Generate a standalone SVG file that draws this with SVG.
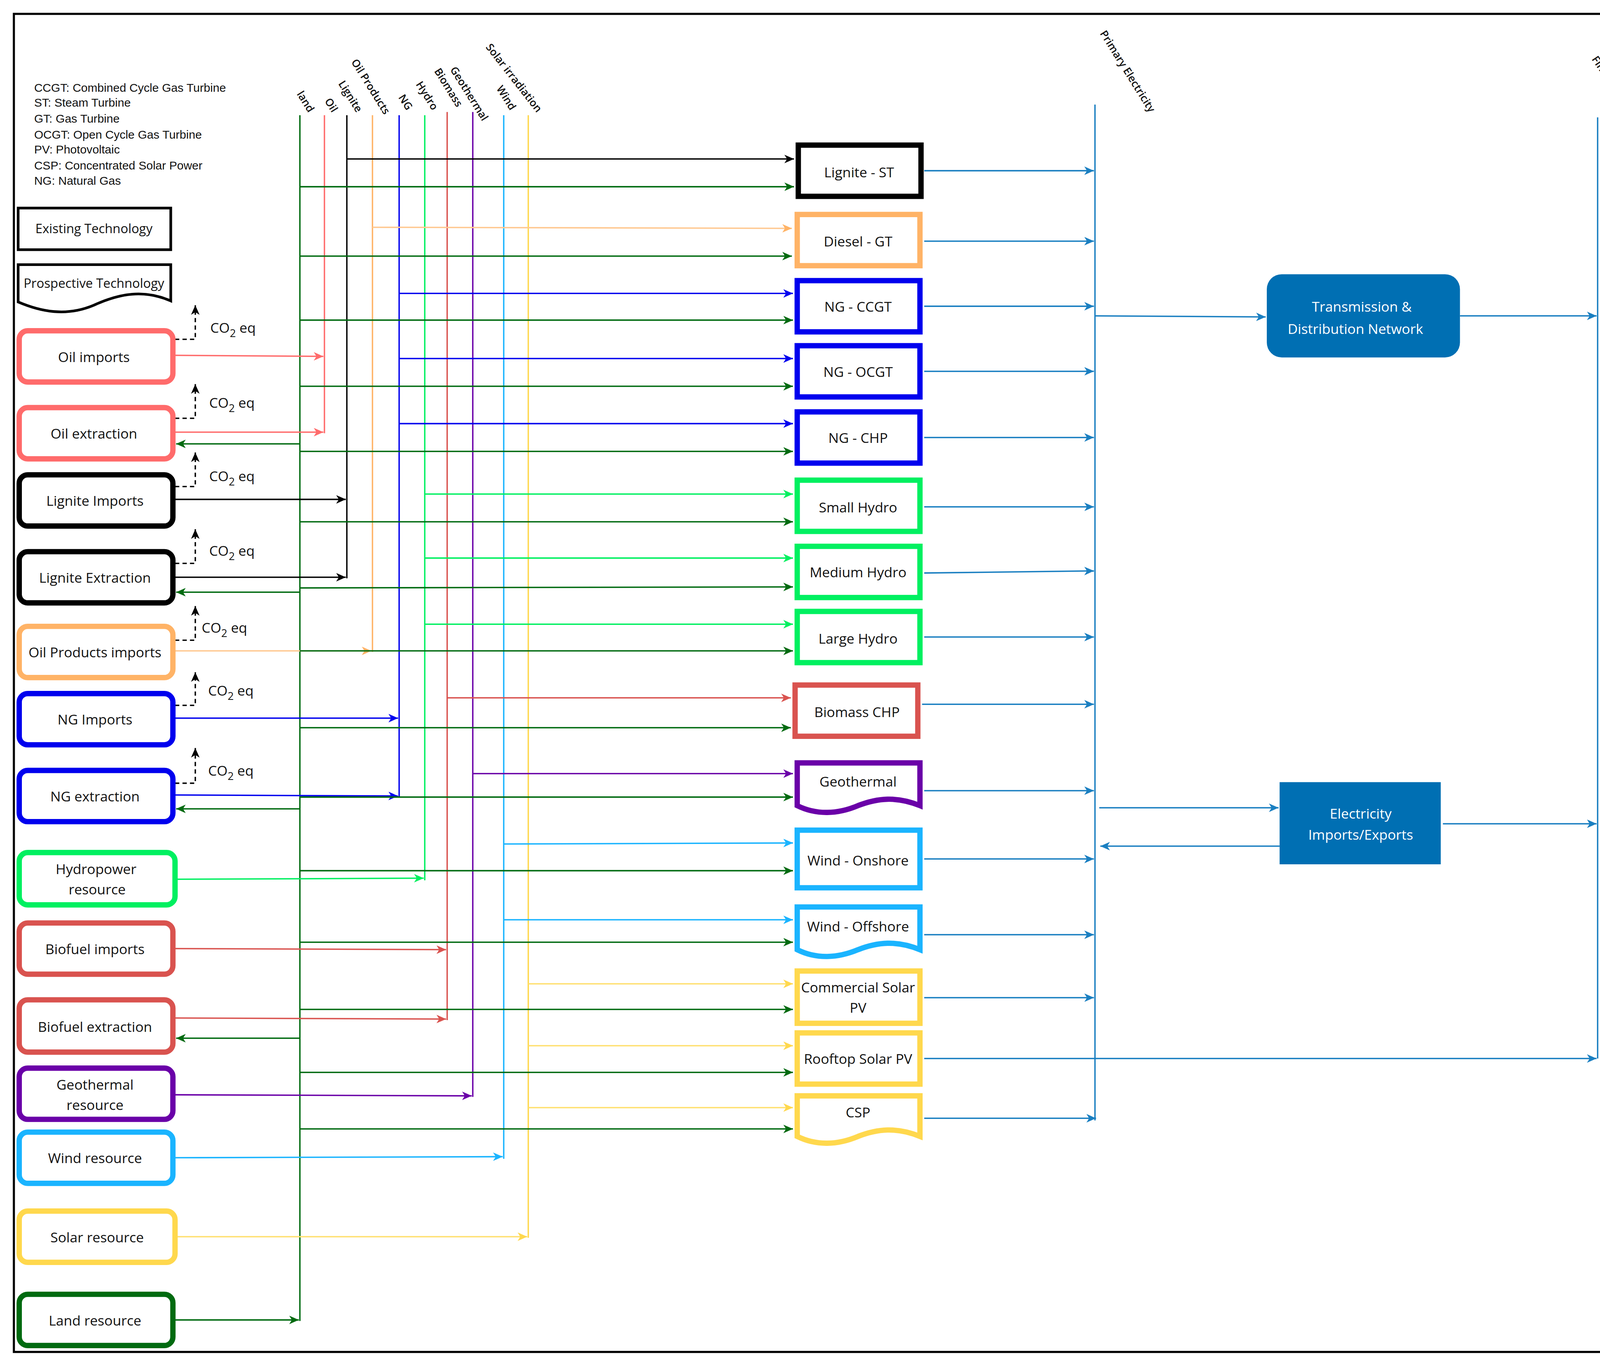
<svg xmlns="http://www.w3.org/2000/svg" width="4284" height="3495" viewBox="0 0 4284 3495">
<style>
.t{font-family:"Open Sans","Liberation Sans",sans-serif;font-size:13px;fill:#111;text-anchor:middle;dominant-baseline:central}
.tw{font-family:"Open Sans","Liberation Sans",sans-serif;font-size:13px;fill:#fff;text-anchor:middle}
.lg{font-family:"Liberation Sans",Arial,sans-serif;font-size:11px;fill:#111}
.bl{font-family:"Open Sans","Liberation Sans",sans-serif;font-size:10px;fill:#111;text-anchor:end;font-weight:600}
.co{font-family:"Open Sans","Liberation Sans",sans-serif;font-size:13px;fill:#111}
.c line,.c path{fill:none;stroke-width:1.3}
.n rect,.n path{fill:#fff;stroke-width:5}
</style>
<defs>
<marker id="k" markerUnits="userSpaceOnUse" markerWidth="10" markerHeight="10" refX="9" refY="4" orient="auto"><path d="M0,0 L9,4 L0,8 L2.5,4z" fill="#000"/></marker>
<marker id="g" markerUnits="userSpaceOnUse" markerWidth="10" markerHeight="10" refX="9" refY="4" orient="auto"><path d="M0,0 L9,4 L0,8 L2.5,4z" fill="#006a10"/></marker>
<marker id="o" markerUnits="userSpaceOnUse" markerWidth="10" markerHeight="10" refX="9" refY="4" orient="auto"><path d="M0,0 L9,4 L0,8 L2.5,4z" fill="#ffb366"/></marker>
<marker id="b" markerUnits="userSpaceOnUse" markerWidth="10" markerHeight="10" refX="9" refY="4" orient="auto"><path d="M0,0 L9,4 L0,8 L2.5,4z" fill="#0000ee"/></marker>
<marker id="h" markerUnits="userSpaceOnUse" markerWidth="10" markerHeight="10" refX="9" refY="4" orient="auto"><path d="M0,0 L9,4 L0,8 L2.5,4z" fill="#00f060"/></marker>
<marker id="r" markerUnits="userSpaceOnUse" markerWidth="10" markerHeight="10" refX="9" refY="4" orient="auto"><path d="M0,0 L9,4 L0,8 L2.5,4z" fill="#d9534f"/></marker>
<marker id="p" markerUnits="userSpaceOnUse" markerWidth="10" markerHeight="10" refX="9" refY="4" orient="auto"><path d="M0,0 L9,4 L0,8 L2.5,4z" fill="#ff6b6b"/></marker>
<marker id="v" markerUnits="userSpaceOnUse" markerWidth="10" markerHeight="10" refX="9" refY="4" orient="auto"><path d="M0,0 L9,4 L0,8 L2.5,4z" fill="#6a00a8"/></marker>
<marker id="w" markerUnits="userSpaceOnUse" markerWidth="10" markerHeight="10" refX="9" refY="4" orient="auto"><path d="M0,0 L9,4 L0,8 L2.5,4z" fill="#1ab4ff"/></marker>
<marker id="y" markerUnits="userSpaceOnUse" markerWidth="10" markerHeight="10" refX="9" refY="4" orient="auto"><path d="M0,0 L9,4 L0,8 L2.5,4z" fill="#ffd84d"/></marker>
<marker id="e" markerUnits="userSpaceOnUse" markerWidth="10" markerHeight="10" refX="9" refY="4" orient="auto"><path d="M0,0 L9,4 L0,8 L2.5,4z" fill="#1a7fc1"/></marker>
</defs>
<rect width="4284" height="3495" fill="#fff"/>
<g transform="scale(2.7321)">
<rect x="13" y="13" width="1543" height="1254" fill="none" stroke="#000" stroke-width="2"/>
<g id="legend">
<text class="lg" x="32" y="86">CCGT: Combined Cycle Gas Turbine</text>
<text class="lg" x="32" y="100">ST: Steam Turbine</text>
<text class="lg" x="32" y="115">GT: Gas Turbine</text>
<text class="lg" x="32" y="130">OCGT: Open Cycle Gas Turbine</text>
<text class="lg" x="32" y="144">PV: Photovoltaic</text>
<text class="lg" x="32" y="159">CSP: Concentrated Solar Power</text>
<text class="lg" x="32" y="173">NG: Natural Gas</text>
<rect x="17" y="195" width="143" height="39" fill="#fff" stroke="#000" stroke-width="2.5"/>
<text class="t" x="88" y="214" style="font-size:12px">Existing Technology</text>
<path d="M17,248 H160 V282 C135,271 112,275 88,286 C62,297 38,292 17,283 Z" fill="#fff" stroke="#000" stroke-width="2.5"/>
<text class="t" x="88" y="265" style="font-size:12px">Prospective Technology</text>
</g>
<g id="connectors" class="c">
<line x1="281" y1="108" x2="281" y2="1238" stroke="#006a10" stroke-width="2"/>
<line x1="304" y1="108" x2="304" y2="406" stroke="#ff6b6b" stroke-width="2"/>
<line x1="325" y1="108" x2="325" y2="542" stroke="#000" stroke-width="2"/>
<line x1="349" y1="108" x2="349" y2="611" stroke="#ffb366" stroke-width="2"/>
<line x1="374" y1="108" x2="374" y2="747" stroke="#0000ee" stroke-width="2"/>
<line x1="398" y1="108" x2="398" y2="825" stroke="#00f060" stroke-width="2"/>
<line x1="419" y1="105" x2="419" y2="956" stroke="#d9534f" stroke-width="2"/>
<line x1="443" y1="105" x2="443" y2="1028" stroke="#6a00a8" stroke-width="2"/>
<line x1="472" y1="108" x2="472" y2="1086" stroke="#1ab4ff" stroke-width="2"/>
<line x1="495" y1="108" x2="495" y2="1160" stroke="#ffd84d" stroke-width="2"/>
<line x1="1026" y1="98" x2="1026" y2="1050" stroke="#1a7fc1" stroke-width="2"/>
<line x1="1497" y1="110" x2="1497" y2="992" stroke="#1a7fc1" stroke-width="2"/>
<line x1="163" y1="333" x2="303" y2="334" stroke="#ff6b6b" marker-end="url(#p)"/>
<line x1="163" y1="405" x2="303" y2="405" stroke="#ff6b6b" marker-end="url(#p)"/>
<line x1="281" y1="416" x2="165" y2="416" stroke="#006a10" marker-end="url(#g)"/>
<line x1="163" y1="468" x2="324" y2="468" stroke="#000" marker-end="url(#k)"/>
<line x1="163" y1="541" x2="324" y2="541" stroke="#000" marker-end="url(#k)"/>
<line x1="281" y1="555" x2="165" y2="555" stroke="#006a10" marker-end="url(#g)"/>
<line x1="163" y1="610" x2="348" y2="610" stroke="#ffc890" marker-end="url(#o)"/>
<line x1="163" y1="673" x2="373" y2="673" stroke="#0000ee" marker-end="url(#b)"/>
<line x1="163" y1="745" x2="373" y2="746" stroke="#0000ee" marker-end="url(#b)"/>
<line x1="281" y1="758" x2="165" y2="758" stroke="#006a10" marker-end="url(#g)"/>
<line x1="166" y1="824" x2="397" y2="823" stroke="#00f060" marker-end="url(#h)"/>
<line x1="163" y1="889" x2="418" y2="890" stroke="#d9534f" marker-end="url(#r)"/>
<line x1="163" y1="954" x2="418" y2="955" stroke="#d9534f" marker-end="url(#r)"/>
<line x1="281" y1="973" x2="165" y2="973" stroke="#006a10" marker-end="url(#g)"/>
<line x1="163" y1="1026" x2="442" y2="1027" stroke="#6a00a8" marker-end="url(#v)"/>
<line x1="163" y1="1085" x2="471" y2="1084" stroke="#1ab4ff" marker-end="url(#w)"/>
<line x1="166" y1="1159" x2="494" y2="1159" stroke="#ffe070" marker-end="url(#y)"/>
<line x1="163" y1="1237" x2="280" y2="1237" stroke="#006a10" marker-end="url(#g)"/>
<line x1="325" y1="149" x2="744" y2="149" stroke="#000" marker-end="url(#k)"/>
<line x1="349" y1="213" x2="742" y2="214" stroke="#ffc890" marker-end="url(#o)"/>
<line x1="374" y1="275" x2="743" y2="275" stroke="#0000ee" marker-end="url(#b)"/>
<line x1="374" y1="336" x2="743" y2="336" stroke="#0000ee" marker-end="url(#b)"/>
<line x1="374" y1="397" x2="743" y2="397" stroke="#0000ee" marker-end="url(#b)"/>
<line x1="398" y1="463" x2="743" y2="463" stroke="#00f060" marker-end="url(#h)"/>
<line x1="398" y1="523" x2="743" y2="523" stroke="#00f060" marker-end="url(#h)"/>
<line x1="398" y1="585" x2="743" y2="585" stroke="#00f060" marker-end="url(#h)"/>
<line x1="419" y1="654" x2="741" y2="654" stroke="#d9534f" marker-end="url(#r)"/>
<line x1="443" y1="725" x2="743" y2="725" stroke="#6a00a8" marker-end="url(#v)"/>
<line x1="472" y1="791" x2="743" y2="790" stroke="#1ab4ff" marker-end="url(#w)"/>
<line x1="472" y1="862" x2="743" y2="862" stroke="#1ab4ff" marker-end="url(#w)"/>
<line x1="495" y1="922" x2="743" y2="922" stroke="#ffe070" marker-end="url(#y)"/>
<line x1="495" y1="980" x2="743" y2="980" stroke="#ffe070" marker-end="url(#y)"/>
<line x1="495" y1="1038" x2="743" y2="1038" stroke="#ffe070" marker-end="url(#y)"/>
<g stroke="#006a10">
<line x1="281" y1="175" x2="744" y2="175" marker-end="url(#g)"/>
<line x1="281" y1="240" x2="742" y2="240" marker-end="url(#g)"/>
<line x1="281" y1="300" x2="743" y2="300" marker-end="url(#g)"/>
<line x1="281" y1="362" x2="743" y2="362" marker-end="url(#g)"/>
<line x1="281" y1="423" x2="743" y2="423" marker-end="url(#g)"/>
<line x1="281" y1="489" x2="743" y2="489" marker-end="url(#g)"/>
<line x1="281" y1="551" x2="743" y2="550" marker-end="url(#g)"/>
<line x1="281" y1="610" x2="743" y2="610" marker-end="url(#g)"/>
<line x1="281" y1="682" x2="741" y2="682" marker-end="url(#g)"/>
<line x1="281" y1="747" x2="743" y2="747" marker-end="url(#g)"/>
<line x1="281" y1="816" x2="743" y2="816" marker-end="url(#g)"/>
<line x1="281" y1="883" x2="743" y2="883" marker-end="url(#g)"/>
<line x1="281" y1="946" x2="743" y2="946" marker-end="url(#g)"/>
<line x1="281" y1="1005" x2="743" y2="1005" marker-end="url(#g)"/>
<line x1="281" y1="1058" x2="743" y2="1058" marker-end="url(#g)"/>
</g>
<g stroke="#1a7fc1">
<line x1="866" y1="160" x2="1025" y2="160" marker-end="url(#e)"/>
<line x1="866" y1="226" x2="1025" y2="226" marker-end="url(#e)"/>
<line x1="866" y1="287" x2="1025" y2="287" marker-end="url(#e)"/>
<line x1="866" y1="348" x2="1025" y2="348" marker-end="url(#e)"/>
<line x1="866" y1="410" x2="1025" y2="410" marker-end="url(#e)"/>
<line x1="866" y1="475" x2="1025" y2="475" marker-end="url(#e)"/>
<line x1="866" y1="537" x2="1025" y2="535" marker-end="url(#e)"/>
<line x1="866" y1="597" x2="1025" y2="597" marker-end="url(#e)"/>
<line x1="864" y1="660" x2="1025" y2="660" marker-end="url(#e)"/>
<line x1="866" y1="741" x2="1025" y2="741" marker-end="url(#e)"/>
<line x1="866" y1="805" x2="1025" y2="805" marker-end="url(#e)"/>
<line x1="866" y1="876" x2="1025" y2="876" marker-end="url(#e)"/>
<line x1="866" y1="935" x2="1025" y2="935" marker-end="url(#e)"/>
<line x1="866" y1="992" x2="1496" y2="992" marker-end="url(#e)"/>
<line x1="866" y1="1048" x2="1027" y2="1048" marker-end="url(#e)"/>
<line x1="1026" y1="296" x2="1186" y2="297" marker-end="url(#e)"/>
<line x1="1368" y1="296" x2="1496" y2="296" marker-end="url(#e)"/>
<line x1="1030" y1="757" x2="1198" y2="757" marker-end="url(#e)"/>
<line x1="1199" y1="793" x2="1031" y2="793" marker-end="url(#e)"/>
<line x1="1352" y1="772" x2="1496" y2="772" marker-end="url(#e)"/>
</g>
<g stroke="#000" stroke-dasharray="4,3">
<path d="M164,318 H183 V286" marker-end="url(#k)"/>
<path d="M164,392 H183 V360" marker-end="url(#k)"/>
<path d="M164,456 H183 V424" marker-end="url(#k)"/>
<path d="M164,528 H183 V496" marker-end="url(#k)"/>
<path d="M164,600 H183 V568" marker-end="url(#k)"/>
<path d="M164,661 H183 V630" marker-end="url(#k)"/>
<path d="M164,734 H183 V701" marker-end="url(#k)"/>
</g>
</g>
<g id="co2labels">
<text class="co" x="197" y="312">CO<tspan font-size="10" dy="4">2</tspan><tspan dy="-4"> eq</tspan></text>
<text class="co" x="196" y="382">CO<tspan font-size="10" dy="4">2</tspan><tspan dy="-4"> eq</tspan></text>
<text class="co" x="196" y="451">CO<tspan font-size="10" dy="4">2</tspan><tspan dy="-4"> eq</tspan></text>
<text class="co" x="196" y="521">CO<tspan font-size="10" dy="4">2</tspan><tspan dy="-4"> eq</tspan></text>
<text class="co" x="189" y="593">CO<tspan font-size="10" dy="4">2</tspan><tspan dy="-4"> eq</tspan></text>
<text class="co" x="195" y="652">CO<tspan font-size="10" dy="4">2</tspan><tspan dy="-4"> eq</tspan></text>
<text class="co" x="195" y="727">CO<tspan font-size="10" dy="4">2</tspan><tspan dy="-4"> eq</tspan></text>
</g>
<g id="buslabels">
<text class="bl" transform="translate(289,106) rotate(58)">land</text>
<text class="bl" transform="translate(311,106) rotate(58)">Oil</text>
<text class="bl" transform="translate(334,106) rotate(58)">Lignite</text>
<text class="bl" transform="translate(360,108) rotate(58)">Oil Products</text>
<text class="bl" transform="translate(381,104) rotate(58)">NG</text>
<text class="bl" transform="translate(405,104) rotate(58)">Hydro</text>
<text class="bl" transform="translate(428,101) rotate(58)">Biomass</text>
<text class="bl" transform="translate(452,114) rotate(58)">Geothermal</text>
<text class="bl" transform="translate(478,104) rotate(58)">Wind</text>
<text class="bl" transform="translate(503,106) rotate(52)">Solar irradiation</text>
<text class="bl" transform="translate(1077,106) rotate(58)">Primary Electricity</text>
<text class="bl" transform="translate(1532,116) rotate(56)">Final electricity</text>
</g>
<g id="resources" class="n">
<g id="oilimp"><rect x="18" y="310" width="144" height="48" rx="8" stroke="#ff6b6b"/><text class="t" x="88" y="334">Oil imports</text></g>
<g id="oilext"><rect x="18" y="382" width="144" height="48" rx="8" stroke="#ff6b6b"/><text class="t" x="88" y="406">Oil extraction</text></g>
<g id="ligimp"><rect x="18" y="445" width="144" height="48" rx="8" stroke="#000"/><text class="t" x="89" y="469">Lignite Imports</text></g>
<g id="ligext"><rect x="18" y="517" width="144" height="48" rx="8" stroke="#000"/><text class="t" x="89" y="541">Lignite Extraction</text></g>
<g id="opimp"><rect x="18" y="587" width="144" height="48" rx="8" stroke="#ffb366"/><text class="t" x="89" y="611">Oil Products imports</text></g>
<g id="ngimp"><rect x="18" y="650" width="144" height="48" rx="8" stroke="#0000ee"/><text class="t" x="89" y="674">NG Imports</text></g>
<g id="ngext"><rect x="18" y="722" width="144" height="48" rx="8" stroke="#0000ee"/><text class="t" x="89" y="746">NG extraction</text></g>
<g id="hydro"><rect x="18" y="799" width="146" height="49" rx="8" stroke="#00f060"/><text class="t" x="90" y="814">Hydropower</text><text class="t" x="91" y="833">resource</text></g>
<g id="bioimp"><rect x="18" y="865" width="144" height="48" rx="8" stroke="#d9534f"/><text class="t" x="89" y="889">Biofuel imports</text></g>
<g id="bioext"><rect x="18" y="937" width="144" height="49" rx="8" stroke="#d9534f"/><text class="t" x="89" y="962">Biofuel extraction</text></g>
<g id="geores"><rect x="18" y="1001" width="144" height="48" rx="8" stroke="#6a00a8"/><text class="t" x="89" y="1016">Geothermal</text><text class="t" x="89" y="1035">resource</text></g>
<g id="windres"><rect x="18" y="1061" width="144" height="48" rx="8" stroke="#1ab4ff"/><text class="t" x="89" y="1085">Wind resource</text></g>
<g id="solres"><rect x="18" y="1135" width="146" height="48" rx="8" stroke="#ffd84d"/><text class="t" x="91" y="1159">Solar resource</text></g>
<g id="landres"><rect x="18" y="1213" width="144" height="48" rx="8" stroke="#006a10"/><text class="t" x="89" y="1237">Land resource</text></g>
</g>
<g id="techs" class="n">
<g id="ligst"><rect x="748" y="136" width="115" height="48" stroke="#000" stroke-width="6"/><text class="t" x="805" y="161">Lignite - ST</text></g>
<g id="dgt"><rect x="747" y="201" width="115" height="48" stroke="#ffb366"/><text class="t" x="804" y="226">Diesel - GT</text></g>
<g id="ccgt"><rect x="747" y="263" width="115" height="48" stroke="#0000ee"/><text class="t" x="804" y="287">NG - CCGT</text></g>
<g id="ocgt"><rect x="747" y="324" width="115" height="48" stroke="#0000ee"/><text class="t" x="804" y="348">NG - OCGT</text></g>
<g id="chp"><rect x="747" y="386" width="115" height="48" stroke="#0000ee"/><text class="t" x="804" y="410">NG - CHP</text></g>
<g id="shydro"><rect x="747" y="450" width="115" height="48" stroke="#00f060"/><text class="t" x="804" y="475">Small Hydro</text></g>
<g id="mhydro"><rect x="747" y="512" width="115" height="48" stroke="#00f060"/><text class="t" x="804" y="536">Medium Hydro</text></g>
<g id="lhydro"><rect x="747" y="573" width="115" height="48" stroke="#00f060"/><text class="t" x="804" y="598">Large Hydro</text></g>
<g id="biochp"><rect x="745" y="642" width="115" height="48" stroke="#d9534f"/><text class="t" x="803" y="667">Biomass CHP</text></g>
<g id="geo"><path d="M747,715 H862 V755 C840,746 822,748 804,755 C785,763 765,764 747,755 Z" stroke="#6a00a8"/><text class="t" x="804" y="732">Geothermal</text></g>
<g id="won"><rect x="747" y="778" width="115" height="54" stroke="#1ab4ff"/><text class="t" x="804" y="806">Wind - Onshore</text></g>
<g id="woff"><path d="M747,850 H862 V890 C840,881 822,883 804,890 C785,898 765,899 747,890 Z" stroke="#1ab4ff"/><text class="t" x="804" y="868">Wind - Offshore</text></g>
<g id="cpv"><rect x="747" y="910" width="115" height="49" stroke="#ffd84d"/><text class="t" x="804" y="925">Commercial Solar</text><text class="t" x="804" y="944">PV</text></g>
<g id="rpv"><rect x="747" y="968" width="115" height="48" stroke="#ffd84d"/><text class="t" x="804" y="992">Rooftop Solar PV</text></g>
<g id="csp"><path d="M747,1027 H862 V1065 C840,1056 822,1058 804,1065 C785,1073 765,1074 747,1065 Z" stroke="#ffd84d"/><text class="t" x="804" y="1042">CSP</text></g>
</g>
<g id="tdn"><rect x="1187" y="257" width="181" height="78" rx="14" fill="#006fb3"/><text class="tw" x="1276" y="292">Transmission &amp;</text><text class="tw" x="1270" y="313">Distribution Network</text></g>
<g id="eie"><rect x="1199" y="733" width="151" height="77" fill="#006fb3"/><text class="tw" x="1275" y="767">Electricity</text><text class="tw" x="1275" y="787">Imports/Exports</text></g>
</g>
</svg>
